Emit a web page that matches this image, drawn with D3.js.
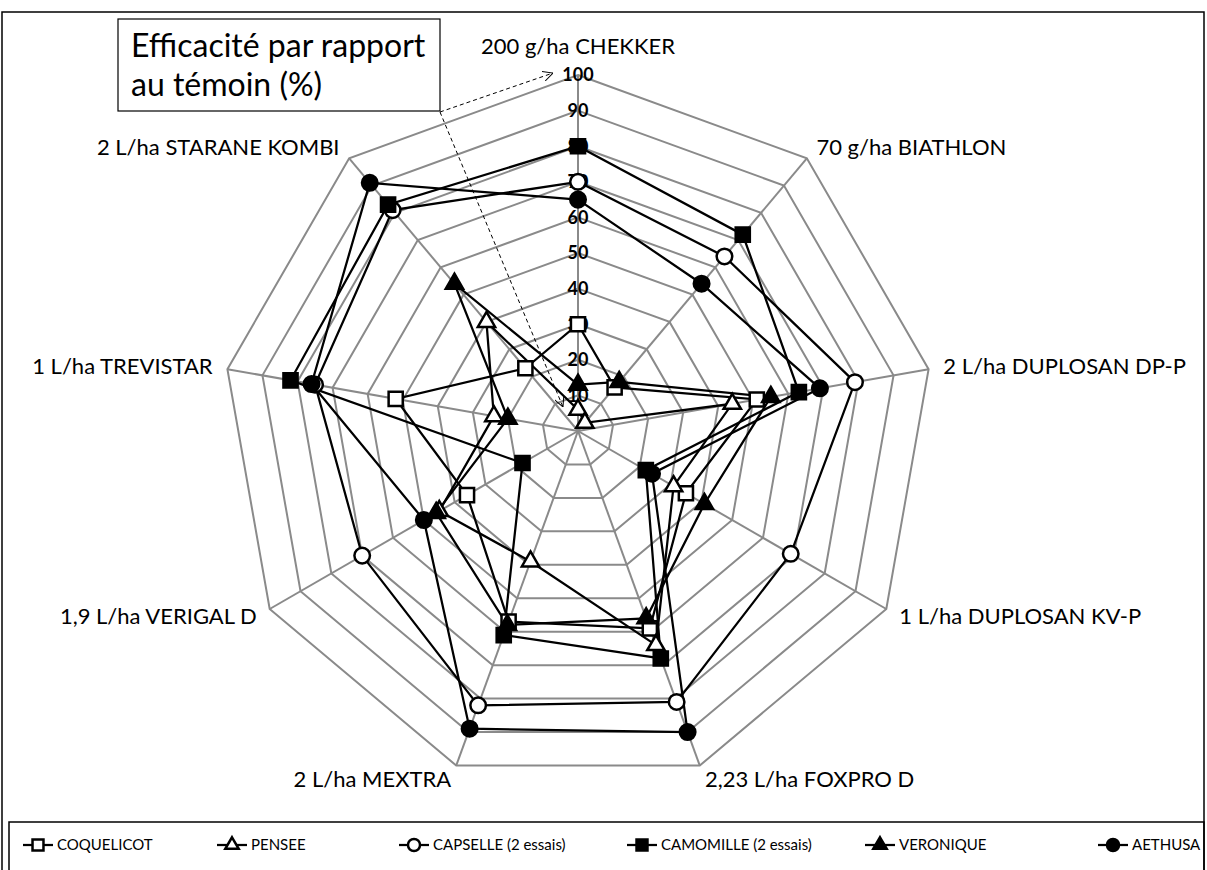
<!DOCTYPE html>
<html>
<head>
<meta charset="utf-8">
<script src="https://cdn.jsdelivr.net/npm/d3@7"></script>
<style>
  body { margin: 0; background: #fff; }
  svg { font-family: Lato, "Open Sans", sans-serif; }
</style>
</head>
<body>
<div id="chart"></div>
<script>
// axes of the radar, clockwise from the top
var categories = ["200 g/ha CHEKKER", "70 g/ha BIATHLON", "2 L/ha DUPLOSAN DP-P",
  "1 L/ha DUPLOSAN KV-P", "2,23 L/ha FOXPRO D", "2 L/ha MEXTRA",
  "1,9 L/ha VERIGAL D", "1 L/ha TREVISTAR", "2 L/ha STARANE KOMBI"];

var seriesNames = ["COQUELICOT", "PENSEE", "CAPSELLE (2 essais)",
  "CAMOMILLE (2 essais)", "VERONIQUE", "AETHUSA"];

var coquelicot = [30, 16, 51, 35, 59, 57, 36, 52, 23];
var pensee     = [6, 3, 44, 31, 64, 39, 45, 24, 40];
var capselle   = [70, 64, 79, 69, 81, 82, 70, 75, 81];
var camomille  = [80, 72, 63, 22, 68, 61, 18, 82, 83];
var veronique  = [13, 18, 55, 41, 56, 58, 46, 20, 54];
var aethusa    = [65, 54, 69, 24, 90, 89, 50, 76, 91];

var tickValues = [10, 20, 30, 40, 50, 60, 70, 80, 90, 100];

var width = 1207, height = 870;
var cx = 578, cy = 431, radius = 356;

var svg = d3.select("#chart").append("svg")
    .attr("width", width)
    .attr("height", height);

// outer frame and legend box
svg.append("rect")
    .attr("x", 2).attr("y", 12)
    .attr("width", 1202).attr("height", 900)
    .attr("fill", "none").attr("stroke", "black").attr("stroke-width", 1.5);

svg.append("rect")
    .attr("x", 9).attr("y", 822)
    .attr("width", 1195).attr("height", 80)
    .attr("fill", "none").attr("stroke", "black").attr("stroke-width", 1.5);

var rScale = d3.scaleLinear().domain([0, 100]).range([0, radius]);
var step = 2 * Math.PI / categories.length;

var g = svg.append("g")
    .attr("transform", "translate(" + cx + "," + cy + ")");

// grid rings
var ring = d3.lineRadial()
    .angle(function(d, i) { return i * step; })
    .radius(function(d) { return rScale(d); })
    .curve(d3.curveLinearClosed);

g.selectAll(".ring")
    .data(tickValues)
    .enter().append("path")
    .attr("class", "ring")
    .attr("d", function(t) { return ring(categories.map(function() { return t; })); })
    .attr("fill", "none")
    .attr("stroke", "#8a8a8a")
    .attr("stroke-width", 2);

// spokes
g.selectAll(".spoke")
    .data(categories)
    .enter().append("line")
    .attr("class", "spoke")
    .attr("x1", 0).attr("y1", 0)
    .attr("x2", function(d, i) { return rScale(100) * Math.sin(i * step); })
    .attr("y2", function(d, i) { return -rScale(100) * Math.cos(i * step); })
    .attr("stroke", "#8a8a8a")
    .attr("stroke-width", 2);

// tick labels on the top axis
g.selectAll(".tick-label")
    .data(tickValues)
    .enter().append("text")
    .attr("class", "tick-label")
    .attr("x", 0)
    .attr("y", function(t) { return -rScale(t); })
    .attr("dy", "0.36em")
    .attr("text-anchor", "middle")
    .style("font-size", "18px")
    .style("font-weight", "bold")
    .text(function(t) { return t; });

// category labels
g.selectAll(".cat-label")
    .data(categories)
    .enter().append("text")
    .attr("class", "cat-label")
    .attr("x", function(d, i) { return (rScale(100) + 15) * Math.sin(i * step); })
    .attr("y", function(d, i) {
      var c = -Math.cos(i * step);
      var y = (rScale(100) + 15) * c;
      if (Math.abs(Math.sin(i * step)) < 0.1) y += c * 14;
      return y;
    })
    .attr("dy", "0.35em")
    .attr("text-anchor", function(d, i) {
      var s = Math.sin(i * step);
      return s > 0.1 ? "start" : (s < -0.1 ? "end" : "middle");
    })
    .style("font-size", "22px")
    .text(function(d) { return d; });

// series
var series = [
  { name: seriesNames[0], values: coquelicot, shape: d3.symbolSquare, filled: false },
  { name: seriesNames[1], values: pensee, shape: d3.symbolTriangle, filled: false },
  { name: seriesNames[2], values: capselle, shape: d3.symbolCircle, filled: false },
  { name: seriesNames[3], values: camomille, shape: d3.symbolSquare, filled: true },
  { name: seriesNames[4], values: veronique, shape: d3.symbolTriangle, filled: true },
  { name: seriesNames[5], values: aethusa, shape: d3.symbolCircle, filled: true }
];

function symbolSize(shape) {
  if (shape === d3.symbolSquare) return 200;
  if (shape === d3.symbolTriangle) return 130;
  return 190;
}

var line = d3.lineRadial()
    .angle(function(d, i) { return i * step; })
    .radius(function(d) { return rScale(d); })
    .curve(d3.curveLinearClosed);

g.selectAll(".series-line")
    .data(series)
    .enter().append("path")
    .attr("class", "series-line")
    .attr("d", function(s) { return line(s.values); })
    .attr("fill", "none")
    .attr("stroke", "black")
    .attr("stroke-width", 2.25);

series.forEach(function(s) {
  g.selectAll(null)
    .data(s.values)
    .enter().append("path")
    .attr("transform", function(d, i) {
      return "translate(" + (rScale(d) * Math.sin(i * step)) + "," + (-rScale(d) * Math.cos(i * step)) + ")";
    })
    .attr("d", d3.symbol().type(s.shape).size(symbolSize(s.shape)))
    .attr("fill", s.filled ? "black" : "white")
    .attr("stroke", "black")
    .attr("stroke-width", 2.5);
});

// title box with dashed arrows
svg.append("defs").append("marker")
    .attr("id", "arrow")
    .attr("viewBox", "0 0 10 10")
    .attr("refX", 10).attr("refY", 5)
    .attr("markerWidth", 10).attr("markerHeight", 10)
    .attr("markerUnits", "userSpaceOnUse")
    .attr("orient", "auto")
    .append("path")
    .attr("d", "M0,0L10,5L0,10")
    .attr("fill", "none")
    .attr("stroke", "black")
    .attr("stroke-width", 1);

svg.append("rect")
    .attr("x", 118).attr("y", 19)
    .attr("width", 322).attr("height", 92)
    .attr("fill", "white").attr("stroke", "black").attr("stroke-width", 1.2);

svg.append("text")
    .attr("x", 131).attr("y", 57)
    .style("font-size", "32px")
    .text("Efficacité par rapport");

svg.append("text")
    .attr("x", 131).attr("y", 96)
    .style("font-size", "32px")
    .text("au témoin (%)");

[[553, 73], [563, 407]].forEach(function(p) {
  svg.append("line")
      .attr("x1", 440).attr("y1", 112)
      .attr("x2", p[0]).attr("y2", p[1])
      .attr("stroke", "black")
      .attr("stroke-width", 1)
      .attr("stroke-dasharray", "4,3")
      .attr("marker-end", "url(#arrow)");
});

// legend
var legendX = [38, 232, 414, 642, 880, 1113];
var legend = svg.selectAll(".legend")
    .data(series)
    .enter().append("g")
    .attr("class", "legend")
    .attr("transform", function(d, i) { return "translate(" + legendX[i] + ",845)"; });

legend.append("line")
    .attr("x1", -15).attr("x2", 15)
    .attr("stroke", "black").attr("stroke-width", 2.25);

legend.append("path")
    .attr("d", function(s) { return d3.symbol().type(s.shape).size(symbolSize(s.shape) * 0.6)(); })
    .attr("fill", function(s) { return s.filled ? "black" : "white"; })
    .attr("stroke", "black")
    .attr("stroke-width", 2.5);

legend.append("text")
    .attr("x", 19)
    .attr("dy", "0.35em")
    .style("font-size", "15px")
    .text(function(s) { return s.name; });
</script>
</body>
</html>
